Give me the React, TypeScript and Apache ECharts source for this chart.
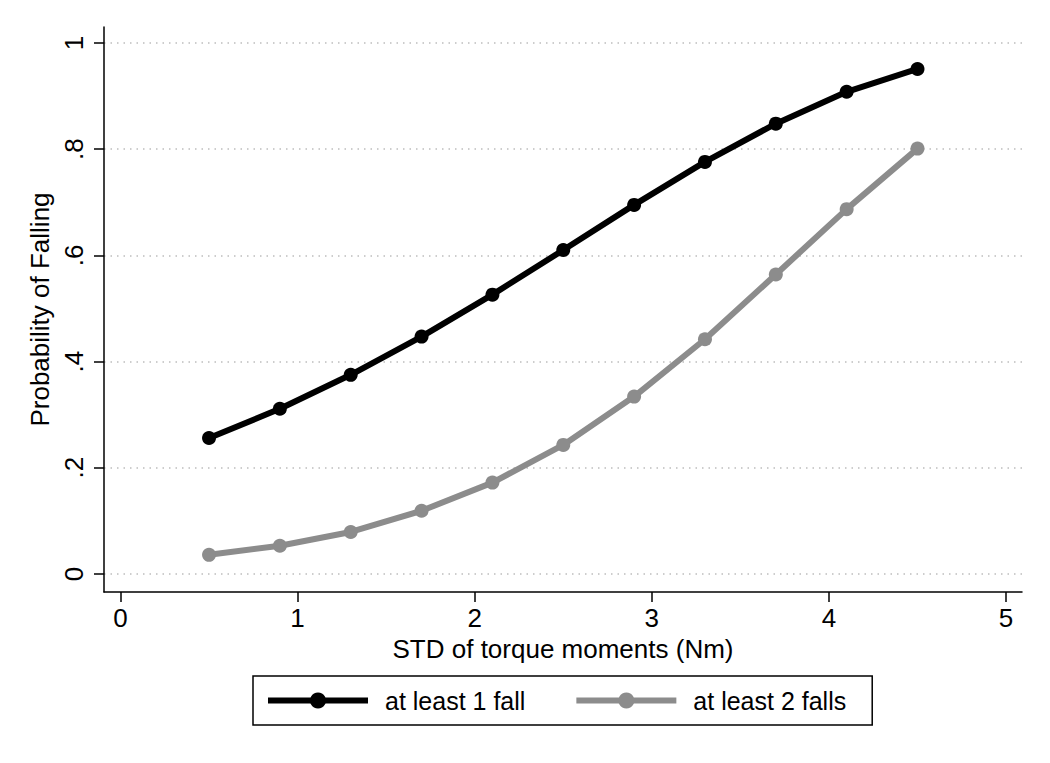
import React, { useEffect, useRef } from "react";
import * as echarts from "echarts";

const xValues = [0.5, 0.9, 1.3, 1.7, 2.1, 2.5, 2.9, 3.3, 3.7, 4.1, 4.5];
const atLeastOne = [0.256, 0.311, 0.375, 0.447, 0.526, 0.61, 0.695, 0.776, 0.848, 0.908, 0.951];
const atLeastTwo = [0.036, 0.053, 0.079, 0.119, 0.172, 0.243, 0.334, 0.442, 0.564, 0.687, 0.801];
const xTicks = [0, 1, 2, 3, 4, 5];
const yTicks = [0, 0.2, 0.4, 0.6, 0.8, 1];
const seriesNames = ["at least 1 fall", "at least 2 falls"];

const FONT = "'Liberation Sans', Arial, Helvetica, sans-serif";
const FS = 26;
const BLACK = "#000000";
const GRAY = "#8c8c8c";

function fmtY(v: number): string {
  if (v === 0) return "0";
  if (v === 1) return "1";
  return String(Math.round(v * 10) / 10).replace(/^0/, "");
}

export default function App() {
  const ref = useRef<HTMLDivElement>(null);
  useEffect(() => {
    document.body.style.margin = "0";
    const chart = echarts.init(ref.current!, null, { renderer: "svg" });
    const pair = (ys: number[]) => xValues.map((x, i) => [x, ys[i]]);
    chart.setOption({
      animation: false,
      backgroundColor: "#ffffff",
      textStyle: { fontFamily: FONT },
      grid: { left: 104, top: 27, right: 28, bottom: 171, containLabel: false },
      legend: {
        left: 253,
        top: 676,
        orient: "horizontal",
        borderColor: "#000",
        borderWidth: 1.5,
        padding: [12, 26, 12, 12],
        itemGap: 48,
        itemWidth: 100,
        itemHeight: 20,
        textStyle: { fontSize: 25, color: "#000", fontFamily: FONT, padding: [0, 0, 0, 12] },
        data: [
          { name: seriesNames[0], itemStyle: { color: BLACK }, lineStyle: { color: BLACK, width: 6 } },
          { name: seriesNames[1], itemStyle: { color: GRAY }, lineStyle: { color: GRAY, width: 6 } },
        ],
      },
      xAxis: {
        type: "value",
        min: -0.093,
        max: 5.09,
        name: "STD of torque moments (Nm)",
        nameLocation: "middle",
        nameGap: 43,
        nameTextStyle: { fontSize: FS, color: "#000", fontFamily: FONT },
        axisLine: { show: true, onZero: false, lineStyle: { color: "#000", width: 1.5 } },
        axisTick: { show: true, length: 10, customValues: xTicks, lineStyle: { color: "#000", width: 1.5 } },
        axisLabel: { customValues: xTicks, fontSize: FS, color: "#000", margin: 13, fontFamily: FONT },
        splitLine: { show: false },
      },
      yAxis: {
        type: "value",
        min: -0.034,
        max: 1.03,
        name: "Probability of Falling",
        nameLocation: "middle",
        nameGap: 48,
        nameRotate: 90,
        nameTextStyle: { fontSize: FS, color: "#000", fontFamily: FONT },
        axisLine: { show: true, onZero: false, lineStyle: { color: "#000", width: 1.5 } },
        axisTick: { show: true, length: 10, customValues: yTicks, lineStyle: { color: "#000", width: 1.5 } },
        axisLabel: {
          customValues: yTicks,
          rotate: 90,
          fontSize: FS,
          color: "#000",
          margin: 17,
          fontFamily: FONT,
          formatter: (v: number) => fmtY(v),
        },
        splitLine: { show: true, lineStyle: { color: "#bdbdbd", width: 1.5, type: [1.5, 5] } },
      },
      series: [
        {
          name: seriesNames[0],
          type: "line",
          data: pair(atLeastOne),
          symbol: "circle",
          symbolSize: 14,
          lineStyle: { color: BLACK, width: 6 },
          itemStyle: { color: BLACK },
          z: 3,
        },
        {
          name: seriesNames[1],
          type: "line",
          data: pair(atLeastTwo),
          symbol: "circle",
          symbolSize: 14,
          lineStyle: { color: GRAY, width: 6 },
          itemStyle: { color: GRAY },
          z: 2,
        },
      ],
    });
    return () => chart.dispose();
  }, []);
  return <div ref={ref} style={{ width: 1050, height: 763 }} />;
}
